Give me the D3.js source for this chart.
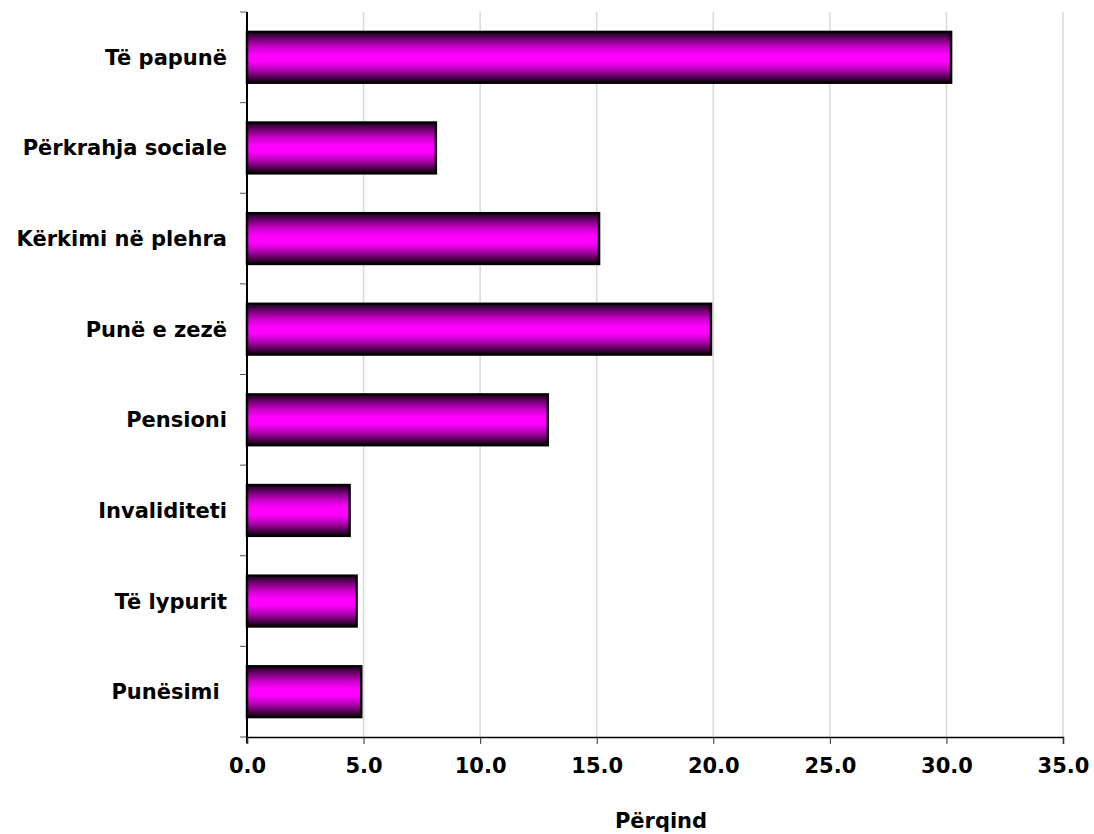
<!DOCTYPE html>
<html><head><meta charset="utf-8">
<script src="https://cdn.jsdelivr.net/npm/d3@7"></script>
<style>
body{margin:0;background:#fff;}
svg{display:block;font-family:"DejaVu Sans",Verdana,sans-serif;font-weight:bold;}
</style></head>
<body><svg id="c" width="1094" height="834"></svg>
<script>
const categories = ["Të papunë","Përkrahja sociale","Kërkimi në plehra","Punë e zezë","Pensioni","Invaliditeti","Të lypurit","Punësimi "];
const values = [30.2, 8.1, 15.1, 19.9, 12.9, 4.4, 4.7, 4.9];
const xTicks = [0,5,10,15,20,25,30,35];
const xTitle = "Përqind";

const svg = d3.select("#c");
const m = {left:247, right:1063, top:12, bottom:737};
const x = d3.scaleLinear().domain([0,35]).range([m.left,m.right]);
const y = d3.scaleBand().domain(categories).range([m.top,m.bottom]).paddingInner(0.44).paddingOuter(0.22);

const defs = svg.append("defs");
const g = defs.append("linearGradient").attr("id","grad").attr("x1",0).attr("y1",0).attr("x2",0).attr("y2",1);
[[0,"#1a001a"],[0.12,"#660066"],[0.3,"#cc00cc"],[0.45,"#ff00ff"],[0.58,"#ff00ff"],[0.75,"#b300b3"],[0.9,"#4d004d"],[1,"#0d000d"]]
  .forEach(([o,c])=>g.append("stop").attr("offset",o).attr("stop-color",c));

// gridlines
svg.append("g").selectAll("line").data(xTicks.filter(d=>d>0)).join("line")
  .attr("x1",d=>x(d)).attr("x2",d=>x(d)).attr("y1",m.top).attr("y2",m.bottom)
  .attr("stroke","#d9d9d9").attr("stroke-width",1.5);

// bars
svg.append("g").selectAll("rect").data(values).join("rect")
  .attr("x",x(0)).attr("y",(d,i)=>y(categories[i]))
  .attr("width",d=>x(d)-x(0)).attr("height",y.bandwidth())
  .attr("fill","url(#grad)").attr("stroke","#000").attr("stroke-width",2.5);

// y axis
const bounds = d3.range(categories.length+1).map(i=>m.top + i*(m.bottom-m.top)/categories.length);
svg.append("g").selectAll("line").data(bounds).join("line")
  .attr("x1",m.left-7).attr("x2",m.left).attr("y1",d=>d).attr("y2",d=>d)
  .attr("stroke","#555").attr("stroke-width",1);
svg.append("line").attr("x1",m.left).attr("x2",m.left).attr("y1",m.top).attr("y2",m.bottom+6)
  .attr("stroke","#000").attr("stroke-width",2);
svg.append("g").selectAll("text").data(categories).join("text")
  .attr("x",m.left-20).attr("y",d=>y(d)+y.bandwidth()/2).attr("dy","0.36em")
  .attr("text-anchor","end").attr("font-size",21).style("white-space","pre").text(d=>d);

// x axis
const xa = svg.append("g").attr("transform",`translate(0,${m.bottom})`)
  .call(d3.axisBottom(x).tickValues(xTicks).tickFormat(d3.format(".1f")).tickSize(7).tickPadding(14));
xa.select(".domain").attr("stroke","#000").attr("stroke-width",1.5);
xa.selectAll(".tick line").attr("stroke","#333");
xa.selectAll("text").attr("font-size",21).attr("font-family","DejaVu Sans").attr("font-weight","bold").attr("fill","#000");

svg.append("text").attr("x",661).attr("y",828).attr("text-anchor","middle")
  .attr("font-size",21).text(xTitle);
</script></body></html>
